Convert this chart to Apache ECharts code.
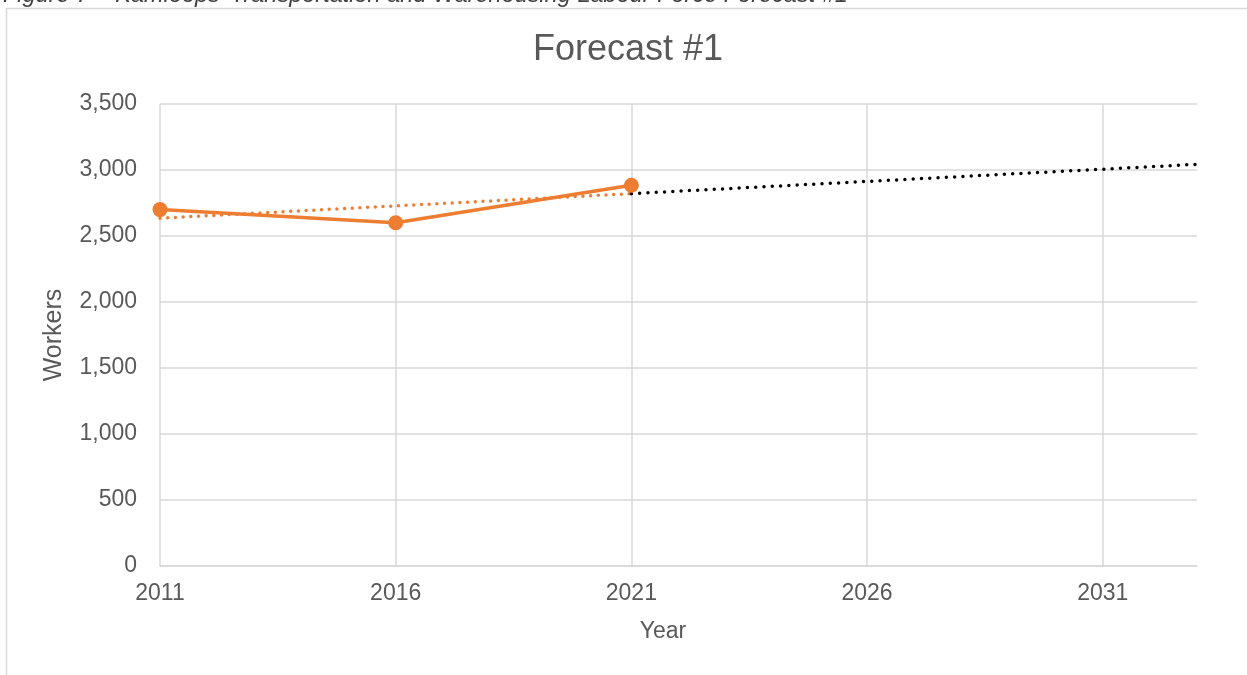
<!DOCTYPE html>
<html>
<head>
<meta charset="utf-8">
<style>
  html, body { margin: 0; padding: 0; background: #ffffff; }
  #chart { width: 1247px; height: 675px; }
</style>
<script src="https://cdn.jsdelivr.net/npm/echarts@6/dist/echarts.min.js"></script>
</head>
<body>
<div id="chart"></div>
<script>
// Observed labour force (workers) by census year
const years = [2011, 2016, 2021];
const workers = [2700, 2600, 2885];

// Linear trendline: fitted span over the census years, projection beyond
const trendYears = [2011, 2021];
const trendValues = [2635, 2821];
const projYears = [2021, 2033];
const projValues = [2821, 3043];

const yTicks = [0, 500, 1000, 1500, 2000, 2500, 3000, 3500];

const FONT = '"Liberation Sans", Arial, sans-serif';
const TEXT = '#595959';
const GRID = '#d9d9d9';
const ORANGE = '#ED7D31';

const chart = echarts.init(document.getElementById('chart'), null, { renderer: 'canvas' });

const pairs = (xs, ys) => xs.map((x, i) => [x, ys[i]]);

chart.setOption({
  animation: false,
  backgroundColor: '#ffffff',
  textStyle: { fontFamily: FONT },
  graphic: [
    {
      type: 'rect',
      shape: { x: 6.5, y: 8.5, width: 1260, height: 700 },
      style: { fill: 'none', stroke: GRID, lineWidth: 1.5 },
      silent: true
    },
    {
      type: 'text',
      x: 3, y: 7,
      style: {
        text: "Figure 7 \u2013 Kamloops' Transportation and Warehousing Labour Force Forecast #1",
        font: 'italic 23.5px ' + FONT,
        fill: '#404040',
        align: 'left',
        verticalAlign: 'bottom'
      }
    },
    {
      type: 'text',
      x: 628, y: 50,
      style: {
        text: 'Forecast #1',
        font: '36px ' + FONT,
        fill: TEXT,
        align: 'center',
        verticalAlign: 'middle'
      }
    },
    {
      type: 'text',
      x: 663, y: 632,
      style: {
        text: 'Year',
        font: '23px ' + FONT,
        fill: TEXT,
        align: 'center',
        verticalAlign: 'middle'
      }
    }
  ],
  grid: { left: 160, top: 104, right: 50, bottom: 109, containLabel: false },
  xAxis: {
    type: 'value',
    min: 2011,
    max: 2033,
    interval: 5,
    axisLine: { show: true, lineStyle: { color: GRID, width: 1.5 } },
    axisTick: { show: false },
    axisLabel: {
      color: TEXT, fontSize: 23, fontFamily: FONT, margin: 16,
      showMaxLabel: false,
      formatter: v => String(v)
    },
    splitLine: { show: true, showMinLine: true, showMaxLine: false, lineStyle: { color: GRID, width: 1.5 } }
  },
  yAxis: {
    type: 'value',
    min: yTicks[0],
    max: yTicks[yTicks.length - 1],
    interval: 500,
    name: 'Workers',
    nameLocation: 'middle',
    nameGap: 93,
    nameTextStyle: { color: TEXT, fontSize: 25, fontFamily: FONT },
    axisLine: { show: false },
    axisTick: { show: false },
    axisLabel: {
      color: TEXT, fontSize: 23, fontFamily: FONT, margin: 23,
      formatter: v => v.toLocaleString('en-US')
    },
    splitLine: { show: true, lineStyle: { color: GRID, width: 1.5 } }
  },
  series: [
    {
      name: 'Trend',
      type: 'line',
      data: pairs(trendYears, trendValues),
      symbol: 'none',
      z: 2,
      lineStyle: { color: ORANGE, width: 3.5, type: [0, 7.7], cap: 'round' }
    },
    {
      name: 'Projection',
      type: 'line',
      data: pairs(projYears, projValues),
      symbol: 'none',
      z: 2,
      lineStyle: { color: '#000000', width: 3.5, type: [0, 8.3], cap: 'round' }
    },
    {
      name: 'Workers',
      type: 'line',
      data: pairs(years, workers),
      symbol: 'circle',
      symbolSize: 15,
      z: 3,
      itemStyle: { color: ORANGE },
      lineStyle: { color: ORANGE, width: 3.5 }
    }
  ]
});
</script>
</body>
</html>
